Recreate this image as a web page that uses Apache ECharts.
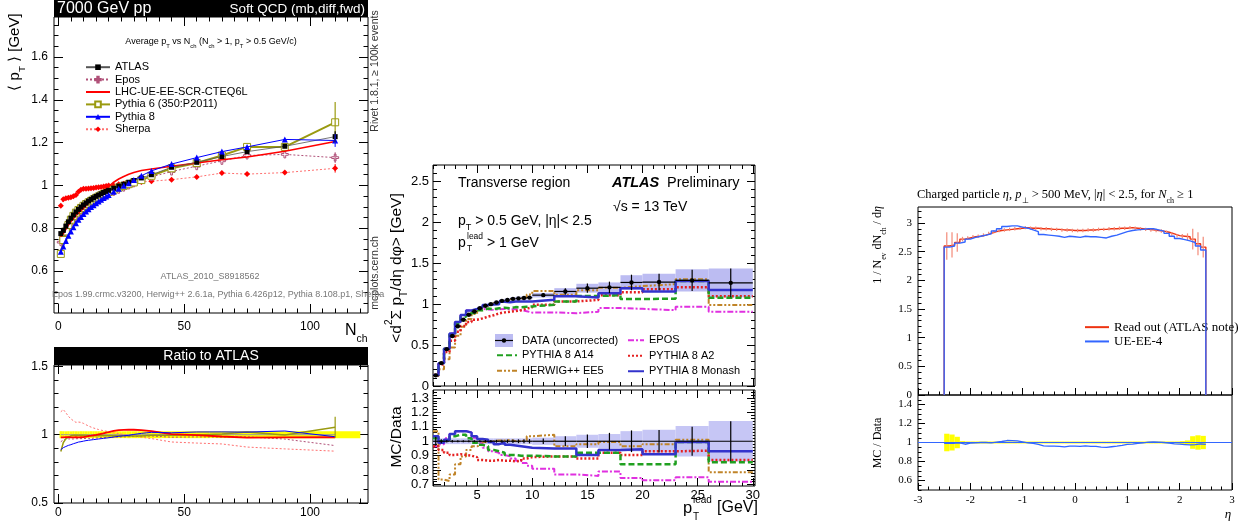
<!DOCTYPE html>
<html>
<head>
<meta charset="utf-8">
<title>Soft QCD / underlying event comparisons</title>
<script src="https://cdn.jsdelivr.net/npm/echarts@6.0.0/dist/echarts.min.js"></script>
<style>
  html, body { margin: 0; padding: 0; background: #fff; }
  #main { width: 1238px; height: 525px; }
</style>
</head>
<body>
<div id="main"></div>
<script>
// ---------- left: <pT> vs Nch (7 TeV, mcplots) ----------
const nch      = [1,2,3,4,5,6,7,8,9,10,11,12,13,14,15,16,17,18,19,20,22,24,26,28,30,33,37,45,55,65,75,90,110];
const atlas    = [0.775,0.79,0.81,0.83,0.847,0.862,0.876,0.888,0.899,0.909,0.918,0.927,0.935,0.942,0.949,0.955,0.961,0.967,0.972,0.977,0.987,0.997,1.006,1.015,1.023,1.035,1.05,1.085,1.108,1.135,1.158,1.183,1.228];
const atlasErr = [0.02,0.02,0.02,0.021,0.021,0.022,0.022,0.022,0.023,0.023,0.023,0.023,0.024,0.024,0.024,0.024,0.024,0.024,0.025,0.025,0.025,0.025,0.025,0.026,0.026,0.026,0.027,0.027,0.028,0.028,0.029,0.03,0.031];
const epos     = [0.735,0.76,0.785,0.805,0.82,0.835,0.85,0.862,0.873,0.883,0.893,0.902,0.91,0.918,0.926,0.933,0.94,0.946,0.952,0.958,0.97,0.98,0.99,1.0,1.01,1.025,1.04,1.065,1.09,1.115,1.14,1.145,1.13];
const lhcUE    = [0.76,0.775,0.795,0.815,0.83,0.845,0.86,0.87,0.882,0.893,0.905,0.918,0.928,0.938,0.947,0.957,0.967,0.977,0.986,0.995,1.015,1.03,1.042,1.052,1.06,1.07,1.077,1.09,1.105,1.12,1.133,1.16,1.205];
const pythia6  = [0.68,0.745,0.785,0.815,0.84,0.858,0.873,0.885,0.895,0.905,0.913,0.921,0.928,0.935,0.942,0.948,0.954,0.96,0.965,0.97,0.98,0.99,0.998,1.006,1.014,1.025,1.045,1.08,1.105,1.14,1.18,1.18,1.295];
const pythia8  = [0.69,0.715,0.74,0.765,0.785,0.805,0.823,0.84,0.853,0.866,0.878,0.889,0.899,0.908,0.917,0.925,0.933,0.941,0.948,0.955,0.97,0.985,0.998,1.01,1.025,1.045,1.068,1.1,1.13,1.158,1.18,1.215,1.21];
const sherpa   = [0.905,0.935,0.94,0.942,0.945,0.95,0.955,0.97,0.98,0.984,0.985,0.986,0.987,0.988,0.99,0.991,0.993,0.995,0.997,1.0,1.0,1.005,1.008,1.01,1.013,1.016,1.02,1.027,1.04,1.058,1.053,1.06,1.08];
// uncertainties on the highest-multiplicity point
const lastErrAtlas = 0.025, lastErrP6 = 0.095, lastErrP8 = 0.03, lastErrSherpa = 0.02, lastErrEpos = 0.025;
const leftXTicks = [0, 50, 100];
const leftYTicks = [0.6, 0.8, 1, 1.2, 1.4, 1.6];
const leftRatioTicks = [0.5, 1, 1.5];

// ---------- middle: transverse sum pT vs leading pT (13 TeV) ----------
const ptEdges    = [1,1.5,2,2.5,3,3.5,4,4.5,5,5.5,6,6.5,7,7.5,8,8.5,9,9.5,10,12,14,16,18,20,23,26,30];
const dataVal    = [0.13,0.28,0.45,0.61,0.73,0.81,0.87,0.91,0.95,0.98,1.0,1.02,1.04,1.05,1.065,1.07,1.075,1.08,1.11,1.155,1.195,1.205,1.265,1.27,1.29,1.26];
const dataStat   = [0.004,0.004,0.004,0.005,0.005,0.005,0.006,0.006,0.007,0.008,0.009,0.01,0.011,0.012,0.013,0.014,0.015,0.016,0.022,0.04,0.056,0.07,0.095,0.1,0.13,0.175];
const dataSysRel = [0.02,0.02,0.02,0.02,0.02,0.02,0.02,0.02,0.02,0.02,0.02,0.02,0.02,0.02,0.02,0.02,0.02,0.02,0.025,0.035,0.045,0.05,0.07,0.08,0.105,0.14];
const a14Ratio    = [1.02,1.0,1.01,1.035,1.045,1.045,1.02,0.99,0.975,0.965,0.94,0.93,0.92,0.905,0.905,0.9,0.9,0.9,0.895,0.895,0.92,0.92,0.84,0.84,0.995,0.855];
const a2Ratio     = [0.965,0.94,0.92,0.905,0.91,0.905,0.9,0.89,0.87,0.865,0.865,0.87,0.865,0.865,0.86,0.865,0.88,0.89,0.895,0.895,0.88,0.92,0.905,0.93,0.935,0.87];
const herwigRatio = [1.07,0.735,0.725,0.77,0.84,0.895,0.94,0.965,0.975,0.995,1.0,1.005,1.005,1.01,1.0,1.0,1.005,1.035,1.045,0.965,0.98,0.995,0.965,0.98,1.01,0.785];
const eposRatio   = [0.965,0.98,1.02,1.05,1.07,1.07,1.06,1.025,0.99,0.955,0.93,0.92,0.905,0.895,0.88,0.865,0.85,0.83,0.81,0.77,0.76,0.79,0.745,0.73,0.75,0.72];
const monashRatio = [1.035,0.99,1.01,1.05,1.07,1.07,1.06,1.035,1.015,1.01,0.995,0.98,0.99,0.975,0.97,0.965,0.96,0.955,0.95,0.95,0.905,0.94,0.945,0.91,0.995,0.93];
const midXTicks = [5, 10, 15, 20, 25, 30];
const midYTicks = [0, 0.5, 1, 1.5, 2, 2.5];
const midRatioTicks = [0.7, 0.8, 0.9, 1, 1.1, 1.2, 1.3];

// ---------- right: charged particle eta ----------
const etaEdges = [-2.5,-2.4,-2.3,-2.2,-2.1,-2,-1.9,-1.8,-1.7,-1.6,-1.5,-1.4,-1.3,-1.2,-1.1,-1,-0.9,-0.8,-0.7,-0.6,-0.5,-0.4,-0.3,-0.2,-0.1,0,0.1,0.2,0.3,0.4,0.5,0.6,0.7,0.8,0.9,1,1.1,1.2,1.3,1.4,1.5,1.6,1.7,1.8,1.9,2,2.1,2.2,2.3,2.4,2.5];
const readOut = [2.60,2.62,2.66,2.72,2.74,2.76,2.77,2.79,2.82,2.85,
                 2.87,2.88,2.89,2.90,2.91,2.92,2.91,2.91,2.90,2.90,
                 2.89,2.89,2.88,2.88,2.87,2.87,2.87,2.88,2.88,2.89,
                 2.89,2.90,2.90,2.91,2.91,2.92,2.91,2.90,2.89,2.88,
                 2.87,2.86,2.84,2.81,2.78,2.77,2.76,2.72,2.64,2.58];
const readOutErr = [0.24,0.22,0.16,0.04,0.03,0.03,0.03,0.03,0.03,0.03,
                    0.03,0.03,0.03,0.03,0.03,0.03,0.03,0.03,0.03,0.03,
                    0.03,0.03,0.03,0.03,0.03,0.03,0.03,0.03,0.03,0.03,
                    0.03,0.03,0.03,0.03,0.03,0.03,0.03,0.03,0.03,0.03,
                    0.03,0.03,0.03,0.03,0.03,0.04,0.06,0.18,0.2,0.18];
const ueEE4 = [2.58,2.60,2.65,2.67,2.72,2.75,2.77,2.79,2.81,2.86,
               2.90,2.94,2.95,2.95,2.93,2.91,2.88,2.85,2.80,2.79,
               2.78,2.77,2.75,2.77,2.76,2.75,2.77,2.76,2.76,2.75,
               2.74,2.77,2.79,2.82,2.85,2.87,2.88,2.89,2.90,2.90,
               2.88,2.86,2.82,2.77,2.73,2.71,2.69,2.66,2.60,2.53];
const etaTicks = [-3, -2, -1, 0, 1, 2, 3];
const rightYTicks = [0, 0.5, 1, 1.5, 2, 2.5, 3];
const rightRatioTicks = [0.6, 0.8, 1, 1.2, 1.4];

const SANS = 'Liberation Sans, Arial, sans-serif';
const SERIF = 'Liberation Serif, Times New Roman, serif';

// ---------- helpers ----------
const grids = [], xAxes = [], yAxes = [];

function minorTicks(min, max, step, majors) {
  const out = [];
  const start = Math.ceil(min / step - 1e-9);
  for (let k = start; k * step <= max + 1e-9; k++) {
    const v = Math.round(k * step * 1e6) / 1e6;
    if (!majors.some(m => Math.abs(m - v) < 1e-6)) out.push(v);
  }
  return out;
}

function axisCfg(gridIndex, o, major, position, labels) {
  return {
    type: 'value', gridIndex, min: o.min, max: o.max, position,
    axisLine: { show: false, onZero: false },
    splitLine: { show: false },
    axisPointer: { show: false },
    axisTick: {
      show: true, inside: true, length: major ? o.len : o.len / 2,
      customValues: major ? o.ticks : minorTicks(o.min, o.max, o.minor, o.ticks),
      lineStyle: { color: '#000', width: 1 }
    },
    axisLabel: {
      show: major && labels && !!o.labels, customValues: o.labels || [],
      color: '#000', fontFamily: o.font, fontSize: o.size, margin: o.margin
    }
  };
}

// one framed grid plus an identical hidden grid that carries the minor ticks;
// "mirror" repeats the ticks on the top and right edges
function panel(rect, xo, yo, mirror) {
  const g = grids.length;
  grids.push(Object.assign({ show: true, borderColor: '#000', borderWidth: 1, backgroundColor: 'transparent' }, rect));
  grids.push(Object.assign({ show: false }, rect));
  const x = xAxes.length, y = yAxes.length;
  xAxes.push(axisCfg(g, xo, true, 'bottom', true), axisCfg(g + 1, xo, false, 'bottom', false));
  yAxes.push(axisCfg(g, yo, true, 'left', true), axisCfg(g + 1, yo, false, 'left', false));
  if (mirror) {
    xAxes.push(axisCfg(g, xo, true, 'top', false), axisCfg(g + 1, xo, false, 'top', false));
    yAxes.push(axisCfg(g, yo, true, 'right', false), axisCfg(g + 1, yo, false, 'right', false));
  }
  return { x, y };
}

function steps(edges, vals, dropEnds) {
  const pts = [];
  if (dropEnds) pts.push([edges[0], 0]);
  vals.forEach((v, i) => { pts.push([edges[i], v]); pts.push([edges[i + 1], v]); });
  if (dropEnds) pts.push([edges[edges.length - 1], 0]);
  return pts;
}

function stepSeries(ax, name, pts, color, width, dash, z) {
  return {
    type: 'line', name, xAxisIndex: ax.x, yAxisIndex: ax.y, data: pts,
    symbol: 'none', z: z || 3, silent: true,
    lineStyle: { color, width, type: dash || 'solid' }, itemStyle: { color }
  };
}

function rectSeries(ax, items, color, z) {
  return {
    type: 'custom', xAxisIndex: ax.x, yAxisIndex: ax.y, data: items, z: z || 1, silent: true,
    renderItem(params, api) {
      const a = api.coord([api.value(0), api.value(3)]);
      const b = api.coord([api.value(1), api.value(2)]);
      return { type: 'rect', shape: { x: a[0], y: a[1], width: b[0] - a[0], height: b[1] - a[1] }, style: { fill: color } };
    }
  };
}

function errSeries(ax, items, color, width, z) {
  return {
    type: 'custom', xAxisIndex: ax.x, yAxisIndex: ax.y, data: items, z: z || 5, silent: true,
    renderItem(params, api) {
      const a = api.coord([api.value(0), api.value(1)]);
      const b = api.coord([api.value(0), api.value(2)]);
      return { type: 'line', shape: { x1: a[0], y1: a[1], x2: b[0], y2: b[1] }, style: { stroke: color, lineWidth: width } };
    }
  };
}

// bin-wise data: horizontal bar over the bin, vertical error bar, optional dot
function binDataSeries(ax, items, dot) {
  return {
    type: 'custom', xAxisIndex: ax.x, yAxisIndex: ax.y, data: items, z: 8, silent: true,
    renderItem(params, api) {
      const lo = api.value(0), hi = api.value(1), v = api.value(2), e = api.value(3);
      const c = (lo + hi) / 2;
      const a = api.coord([lo, v]), b = api.coord([hi, v]);
      const t = api.coord([c, v + e]), u = api.coord([c, v - e]), m = api.coord([c, v]);
      const kids = [
        { type: 'line', shape: { x1: a[0], y1: a[1], x2: b[0], y2: b[1] }, style: { stroke: '#000', lineWidth: 1.2 } },
        { type: 'line', shape: { x1: t[0], y1: t[1], x2: u[0], y2: u[1] }, style: { stroke: '#000', lineWidth: 1.2 } }
      ];
      if (dot) kids.push({ type: 'circle', shape: { cx: m[0], cy: m[1], r: 2.2 }, style: { fill: '#000' } });
      return { type: 'group', children: kids };
    }
  };
}

function rich(size, font, color) {
  return {
    n:   { fontSize: size, fontFamily: font, lineHeight: size * 1.6, verticalAlign: 'middle', fill: color },
    i:   { fontSize: size, fontFamily: font, fontStyle: 'italic', lineHeight: size * 1.6, verticalAlign: 'middle', fill: color },
    sub: { fontSize: size * 0.65, fontFamily: font, lineHeight: size * 0.8, verticalAlign: 'bottom', fill: color },
    sup: { fontSize: size * 0.65, fontFamily: font, lineHeight: size * 0.8, verticalAlign: 'top', fill: color }
  };
}

function txt(x, y, text, o) {
  o = o || {};
  const color = o.color || '#000';
  const style = {
    text, x: 0, y: 0, fill: color,
    fontSize: o.size || 12, fontFamily: o.font || SANS,
    fontWeight: o.weight || 'normal', fontStyle: o.fstyle || 'normal',
    align: o.align || 'left', verticalAlign: o.va || 'middle',
    textAlign: o.align || 'left', textVerticalAlign: o.va || 'middle'
  };
  if (o.rich) style.rich = rich(o.size || 12, o.font || SANS, color);
  return { type: 'text', x, y, rotation: o.rot || 0, z: 100, silent: true, style };
}

// ---------- panels ----------
const L = panel({ left: 54, top: 17, width: 314, height: 296 },
  { min: -1.71, max: 123.05, ticks: leftXTicks, labels: leftXTicks, minor: 5, len: 9, font: SANS, size: 12, margin: 8 },
  { min: 0.404, max: 1.787, ticks: leftYTicks, labels: leftYTicks, minor: 0.05, len: 9, font: SANS, size: 12, margin: 6 }, true);
const LR = panel({ left: 54, top: 365, width: 314, height: 138 },
  { min: -1.71, max: 123.05, ticks: leftXTicks, labels: leftXTicks, minor: 5, len: 9, font: SANS, size: 12, margin: 4 },
  { min: 0.5, max: 1.51, ticks: leftRatioTicks, labels: leftRatioTicks, minor: 0.1, len: 9, font: SANS, size: 12, margin: 6 }, true);
const M = panel({ left: 433, top: 165, width: 322, height: 221 },
  { min: 1, max: 30.2, ticks: midXTicks, labels: null, minor: 1, len: 8, font: SANS, size: 13, margin: 3 },
  { min: 0, max: 2.7, ticks: midYTicks, labels: midYTicks, minor: 0.1, len: 8, font: SANS, size: 13, margin: 4 }, true);
const MR = panel({ left: 433, top: 390, width: 322, height: 96 },
  { min: 1, max: 30.2, ticks: midXTicks, labels: midXTicks, minor: 1, len: 8, font: SANS, size: 13, margin: 3 },
  { min: 0.69, max: 1.355, ticks: midRatioTicks, labels: midRatioTicks, minor: 0.02, len: 8, font: SANS, size: 13, margin: 4 }, true);
const R = panel({ left: 918, top: 207, width: 314, height: 188 },
  { min: -3, max: 3, ticks: etaTicks, labels: null, minor: 0.2, len: 7, font: SERIF, size: 11, margin: 5 },
  { min: 0, max: 3.28, ticks: rightYTicks, labels: rightYTicks, minor: 0.1, len: 7, font: SERIF, size: 11, margin: 6 }, false);
const RR = panel({ left: 918, top: 395, width: 314, height: 95 },
  { min: -3, max: 3, ticks: etaTicks, labels: etaTicks, minor: 0.2, len: 7, font: SERIF, size: 11, margin: 5 },
  { min: 0.5, max: 1.5, ticks: rightRatioTicks, labels: rightRatioTicks, minor: 0.05, len: 7, font: SERIF, size: 11, margin: 6 }, false);

// ---------- series ----------
const series = [];
const pairs = arr => nch.map((n, i) => [n, arr[i]]);
const ratioPairs = arr => nch.map((n, i) => [n, arr[i] / atlas[i]]);
const crossPath = 'path://M3,0H5V3H8V5H5V8H3V5H0V3H3Z';
const last = nch.length - 1;

// left main
series.push({ type: 'line', name: 'Sherpa', xAxisIndex: L.x, yAxisIndex: L.y, data: pairs(sherpa),
  symbol: 'diamond', symbolSize: 6, itemStyle: { color: '#ff0000' },
  lineStyle: { color: '#ff7070', width: 1, type: [2, 2] }, z: 3 });
series.push({ type: 'line', name: 'Epos', xAxisIndex: L.x, yAxisIndex: L.y, data: pairs(epos),
  symbol: crossPath, symbolSize: 7, itemStyle: { color: '#fff', borderColor: '#b05078', borderWidth: 1 },
  lineStyle: { color: '#b05078', width: 1, type: [2, 2] }, z: 3 });
series.push({ type: 'line', name: 'Pythia 6 (350:P2011)', xAxisIndex: L.x, yAxisIndex: L.y, data: pairs(pythia6),
  symbol: 'rect', symbolSize: 7, itemStyle: { color: '#fff', borderColor: '#9a9a10', borderWidth: 1 },
  lineStyle: { color: '#9a9a10', width: 2 }, z: 3 });
series.push({ type: 'line', name: 'LHC-UE-EE-SCR-CTEQ6L', xAxisIndex: L.x, yAxisIndex: L.y, data: pairs(lhcUE),
  symbol: 'none', itemStyle: { color: '#ff0000' }, lineStyle: { color: '#ff0000', width: 1.6 }, z: 4 });
series.push({ type: 'line', name: 'ATLAS', xAxisIndex: L.x, yAxisIndex: L.y, data: pairs(atlas),
  symbol: 'rect', symbolSize: 5, itemStyle: { color: '#000' }, lineStyle: { color: '#555', width: 0.8 }, z: 5 });
series.push({ type: 'line', name: 'Pythia 8', xAxisIndex: L.x, yAxisIndex: L.y, data: pairs(pythia8),
  symbol: 'triangle', symbolSize: 6, itemStyle: { color: '#0000ff' }, lineStyle: { color: '#0000ff', width: 1 }, z: 5 });
series.push(errSeries(L, [[nch[last], pythia6[last] - lastErrP6, pythia6[last] + lastErrP6]], '#9a9a10', 1.2, 6));
series.push(errSeries(L, [[nch[last], atlas[last] - lastErrAtlas, atlas[last] + lastErrAtlas]], '#000', 1.2, 6));
series.push(errSeries(L, [[nch[last], pythia8[last] - lastErrP8, pythia8[last] + lastErrP8]], '#0000ff', 1, 6));
series.push(errSeries(L, [[nch[last], sherpa[last] - lastErrSherpa, sherpa[last] + lastErrSherpa]], '#ff0000', 1, 6));
series.push(errSeries(L, [[nch[last], epos[last] - lastErrEpos, epos[last] + lastErrEpos]], '#b05078', 1, 6));

// left ratio
const bandItems = nch.map((n, i) => {
  const lo = i === 0 ? n - 0.5 : (nch[i - 1] + n) / 2;
  const hi = i === last ? n + (n - nch[i - 1]) / 2 : (n + nch[i + 1]) / 2;
  const r = atlasErr[i] / atlas[i];
  return [lo, hi, 1 - r, 1 + r];
});
series.push(rectSeries(LR, bandItems, '#ffff00', 1));
series.push({ type: 'line', name: 'ATLAS', xAxisIndex: LR.x, yAxisIndex: LR.y, data: ratioPairs(atlas),
  symbol: 'none', lineStyle: { color: '#999', width: 1 }, z: 2 });
series.push({ type: 'line', name: 'Sherpa', xAxisIndex: LR.x, yAxisIndex: LR.y, data: ratioPairs(sherpa),
  symbol: 'none', lineStyle: { color: '#ff7070', width: 1, type: [2, 2] }, z: 3 });
series.push({ type: 'line', name: 'Epos', xAxisIndex: LR.x, yAxisIndex: LR.y, data: ratioPairs(epos),
  symbol: 'none', lineStyle: { color: '#b05078', width: 1, type: [2, 2] }, z: 3 });
series.push({ type: 'line', name: 'Pythia 6 (350:P2011)', xAxisIndex: LR.x, yAxisIndex: LR.y, data: ratioPairs(pythia6),
  symbol: 'none', lineStyle: { color: '#9a9a10', width: 1.5 }, z: 3 });
series.push({ type: 'line', name: 'LHC-UE-EE-SCR-CTEQ6L', xAxisIndex: LR.x, yAxisIndex: LR.y, data: ratioPairs(lhcUE),
  symbol: 'none', lineStyle: { color: '#ff0000', width: 1.8 }, z: 4 });
series.push({ type: 'line', name: 'Pythia 8', xAxisIndex: LR.x, yAxisIndex: LR.y, data: ratioPairs(pythia8),
  symbol: 'none', lineStyle: { color: '#0000ff', width: 1 }, z: 4 });
series.push(errSeries(LR, [[nch[last], (pythia6[last] - lastErrP6) / atlas[last], (pythia6[last] + lastErrP6) / atlas[last]]], '#9a9a10', 1.2, 6));

// middle main
const mcMain = r => dataVal.map((v, i) => v * r[i]);
series.push(rectSeries(M, dataVal.map((v, i) => [ptEdges[i], ptEdges[i + 1], v * (1 - dataSysRel[i]), v * (1 + dataSysRel[i])]), '#bcbcf2', 1));
series.push(stepSeries(M, 'EPOS', steps(ptEdges, mcMain(eposRatio)), '#e030e0', 2, [6, 2, 2, 2]));
series.push(stepSeries(M, 'HERWIG++ EE5', steps(ptEdges, mcMain(herwigRatio)), '#c08428', 2, [5, 2, 2, 2, 2, 2]));
series.push(stepSeries(M, 'PYTHIA 8 A2', steps(ptEdges, mcMain(a2Ratio)), '#e52020', 2.5, [2, 2]));
series.push(stepSeries(M, 'PYTHIA 8 A14', steps(ptEdges, mcMain(a14Ratio)), '#20a020', 2.5, [6, 3]));
series.push(stepSeries(M, 'PYTHIA 8 Monash', steps(ptEdges, mcMain(monashRatio)), '#3333cc', 2.5));
series.push(binDataSeries(M, dataVal.map((v, i) => [ptEdges[i], ptEdges[i + 1], v, dataStat[i]]), true));

// middle ratio
series.push(rectSeries(MR, dataVal.map((v, i) => [ptEdges[i], ptEdges[i + 1], 1 - dataSysRel[i], 1 + dataSysRel[i]]), '#c6c6f5', 1));
series.push(stepSeries(MR, 'EPOS', steps(ptEdges, eposRatio), '#e030e0', 2, [6, 2, 2, 2]));
series.push(stepSeries(MR, 'HERWIG++ EE5', steps(ptEdges, herwigRatio), '#c08428', 2, [5, 2, 2, 2, 2, 2]));
series.push(stepSeries(MR, 'PYTHIA 8 A2', steps(ptEdges, a2Ratio), '#e52020', 2.5, [2, 2]));
series.push(stepSeries(MR, 'PYTHIA 8 A14', steps(ptEdges, a14Ratio), '#20a020', 2.5, [6, 3]));
series.push(stepSeries(MR, 'PYTHIA 8 Monash', steps(ptEdges, monashRatio), '#3333cc', 2.5));
series.push(binDataSeries(MR, dataVal.map((v, i) => [ptEdges[i], ptEdges[i + 1], 1, dataStat[i] / v]), false));

// right main
series.push(stepSeries(R, 'Read out (ATLAS note)', steps(etaEdges, readOut, true), '#ee3311', 1.4, null, 3));
series.push(errSeries(R, readOut.map((v, i) => [(etaEdges[i] + etaEdges[i + 1]) / 2, v - readOutErr[i], v + readOutErr[i]]), '#f38a78', 1.2, 4));
series.push(stepSeries(R, 'UE-EE-4', steps(etaEdges, ueEE4, true), '#3366ff', 1.4, null, 5));

// right ratio
series.push(rectSeries(RR, readOut.map((v, i) => [etaEdges[i], etaEdges[i + 1], 1 - readOutErr[i] / v, 1 + readOutErr[i] / v]), '#ffff00', 1));
series.push(Object.assign(stepSeries(RR, 'Read out (ATLAS note)', steps(etaEdges, readOut.map((v, i) => v / readOut[i])), '#ee3311', 1.2, null, 3), {
  markLine: { silent: true, symbol: 'none', label: { show: false }, data: [{ yAxis: 1 }], lineStyle: { color: '#3366ff', width: 1, type: 'solid' } }
}));
series.push(stepSeries(RR, 'UE-EE-4', steps(etaEdges, ueEE4.map((v, i) => v / readOut[i])), '#3366ff', 1.3, null, 5));

// ---------- text ----------
const g = [];
// left panel
g.push({ type: 'rect', shape: { x: 54, y: 0, width: 314, height: 17 }, style: { fill: '#000' }, z: 90, silent: true });
g.push(txt(57, 9, '7000 GeV pp', { color: '#fff', size: 16 }));
g.push(txt(365, 9, 'Soft QCD (mb,diff,fwd)', { color: '#fff', size: 13.5, align: 'right' }));
g.push(txt(211, 42, '{n|Average p}{sub|T}{n| vs N}{sub|ch}{n| (N}{sub|ch}{n| > 1, p}{sub|T}{n| > 0.5 GeV/c)}', { size: 9, align: 'center', rich: true }));
g.push(txt(15, 52, '{n|⟨ p}{sub|T}{n| ⟩ [GeV]}', { size: 15, align: 'center', rot: Math.PI / 2, rich: true }));
g.push(txt(345, 331, '{n|N}{sub|ch}', { size: 16, rich: true }));
g.push(txt(375, 71, 'Rivet 1.8.1, ≥ 100k events', { size: 10.5, color: '#333', align: 'center', rot: Math.PI / 2 }));
g.push(txt(375, 273, 'mcplots.cern.ch', { size: 10.5, color: '#333', align: 'center', rot: Math.PI / 2 }));
g.push(txt(210, 277, 'ATLAS_2010_S8918562', { size: 9, color: '#777', align: 'center' }));
g.push(txt(52, 295, 'Epos 1.99.crmc.v3200, Herwig++ 2.6.1a, Pythia 6.426p12, Pythia 8.108.p1, Sherpa', { size: 9, color: '#777' }));
g.push({ type: 'rect', shape: { x: 54, y: 347, width: 314, height: 18 }, style: { fill: '#000' }, z: 90, silent: true });
g.push(txt(211, 356.5, 'Ratio to ATLAS', { color: '#fff', size: 14, align: 'center' }));
// middle panel
g.push(txt(397, 268, '{n|<d}{sup|2}{n|Σ p}{sub|T}{n|/dη dφ> [GeV]}', { size: 15.5, align: 'center', rot: Math.PI / 2, rich: true }));
g.push(txt(397, 437, 'MC/Data', { size: 15.5, align: 'center', rot: Math.PI / 2 }));
g.push(txt(683, 508, 'p', { size: 16.5 }));
g.push(txt(693, 500, 'lead', { size: 10 }));
g.push(txt(693, 517, 'T', { size: 10 }));
g.push(txt(717, 508, '[GeV]', { size: 16 }));
g.push(txt(458, 183, 'Transverse region', { size: 14 }));
g.push(txt(612, 183, 'ATLAS', { size: 14.5, weight: 'bold', fstyle: 'italic' }));
g.push(txt(667, 183, 'Preliminary', { size: 14.5 }));
g.push(txt(613, 207, '√s = 13 TeV', { size: 14 }));
g.push(txt(458, 221, '{n|p}{sub|T}{n| > 0.5 GeV, |η|< 2.5}', { size: 14, rich: true }));
g.push(txt(458, 243, 'p', { size: 14 }));
g.push(txt(467, 237, 'lead', { size: 8.5 }));
g.push(txt(467, 249, 'T', { size: 8.5 }));
g.push(txt(487, 243, '> 1 GeV', { size: 14 }));
// DATA legend entry
g.push({ type: 'rect', shape: { x: 495, y: 334, width: 18, height: 13 }, style: { fill: '#bcbcf2' }, z: 95, silent: true });
g.push({ type: 'line', shape: { x1: 495, y1: 340.5, x2: 513, y2: 340.5 }, style: { stroke: '#000', lineWidth: 1.2 }, z: 96, silent: true });
g.push({ type: 'circle', shape: { cx: 504, cy: 340.5, r: 2.2 }, style: { fill: '#000' }, z: 96, silent: true });
g.push(txt(522, 340.5, 'DATA (uncorrected)', { size: 11 }));
// right panel
g.push(txt(917, 195, '{n|Charged particle }{i|η}{n|, }{i|p}{sub|⊥}{n| > 500 MeV, |}{i|η}{n|| < 2.5, for }{i|N}{sub|ch}{n| ≥ 1}', { size: 12.5, font: SERIF, rich: true }));
g.push(txt(878, 245, '{n|1 / N}{sub|ev}{n| dN}{sub|ch}{n| / d}{i|η}', { size: 12, font: SERIF, align: 'center', rot: Math.PI / 2, rich: true }));
g.push(txt(878, 443, 'MC / Data', { size: 12, font: SERIF, align: 'center', rot: Math.PI / 2 }));
g.push(txt(1228, 515, 'η', { size: 13, font: SERIF, fstyle: 'italic', align: 'center' }));

// legend icons: hide the marker ECharts adds to lines drawn without symbols
const noMark = { color: 'rgba(0,0,0,0)', borderWidth: 0, opacity: 0 };
const plainItems = names => names.map(name => ({ name, itemStyle: noMark }));

// ---------- chart ----------
const chart = echarts.init(document.getElementById('main'), null, { renderer: 'canvas' });
chart.setOption({
  animation: false,
  backgroundColor: '#fff',
  grid: grids,
  xAxis: xAxes,
  yAxis: yAxes,
  legend: [
    { left: 85, top: 61, orient: 'vertical', padding: 0, itemGap: 0, itemWidth: 24, itemHeight: 7, selectedMode: false,
      data: ['ATLAS', 'Epos', { name: 'LHC-UE-EE-SCR-CTEQ6L', itemStyle: noMark }, 'Pythia 6 (350:P2011)', 'Pythia 8', 'Sherpa'],
      textStyle: { fontFamily: SANS, fontSize: 11, lineHeight: 12.4, color: '#000' } },
    { left: 496, top: 347.5, orient: 'vertical', padding: 0, itemGap: 0, itemWidth: 20, itemHeight: 8, selectedMode: false,
      data: plainItems(['PYTHIA 8 A14', 'HERWIG++ EE5']),
      textStyle: { fontFamily: SANS, fontSize: 11, lineHeight: 15.5, color: '#000' } },
    { left: 627, top: 332.5, orient: 'vertical', padding: 0, itemGap: 0, itemWidth: 16, itemHeight: 8, selectedMode: false,
      data: plainItems(['EPOS', 'PYTHIA 8 A2', 'PYTHIA 8 Monash']),
      textStyle: { fontFamily: SANS, fontSize: 11, lineHeight: 15.5, color: '#000' } },
    { left: 1084, top: 320, orient: 'vertical', padding: 0, itemGap: 0, itemWidth: 24, itemHeight: 8, selectedMode: false,
      data: plainItems(['Read out (ATLAS note)', 'UE-EE-4']),
      textStyle: { fontFamily: SERIF, fontSize: 13, lineHeight: 14.3, color: '#000' } }
  ],
  series,
  graphic: { elements: g }
});
</script>
</body>
</html>
